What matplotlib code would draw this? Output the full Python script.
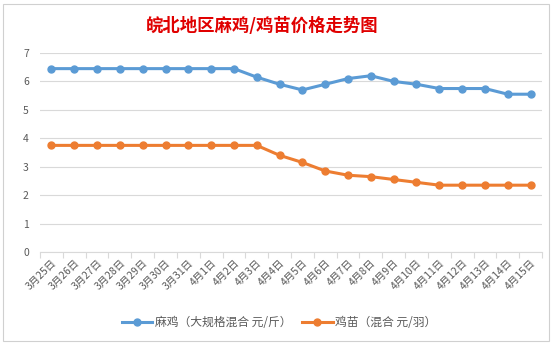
import matplotlib
matplotlib.use("Agg")
import matplotlib.pyplot as plt
from matplotlib.patches import Rectangle

plt.rcParams['font.family'] = ['Noto Sans CJK SC', 'DejaVu Sans']

dates = ["3月25日", "3月26日", "3月27日", "3月28日", "3月29日", "3月30日", "3月31日",
         "4月1日", "4月2日", "4月3日", "4月4日", "4月5日", "4月6日", "4月7日", "4月8日",
         "4月9日", "4月10日", "4月11日", "4月12日", "4月13日", "4月14日", "4月15日"]
maji = [6.45, 6.45, 6.45, 6.45, 6.45, 6.45, 6.45, 6.45, 6.45, 6.15, 5.9, 5.7, 5.9, 6.1,
        6.2, 6.0, 5.9, 5.75, 5.75, 5.75, 5.55, 5.55]
jimiao = [3.75, 3.75, 3.75, 3.75, 3.75, 3.75, 3.75, 3.75, 3.75, 3.75, 3.4, 3.15, 2.85, 2.7,
          2.65, 2.55, 2.45, 2.35, 2.35, 2.35, 2.35, 2.35]
series_names = ["麻鸡（大规格混合 元/斤）", "鸡苗（混合 元/羽）"]
title = "皖北地区麻鸡/鸡苗价格走势图"

blue = "#5B9BD5"
orange = "#ED7D31"
grey_txt = "#595959"

fig = plt.figure(figsize=(5.58, 3.45), dpi=100)
fig.patch.set_facecolor("white")
fig.add_artist(Rectangle((0.006, 0.012), 0.978, 0.976, transform=fig.transFigure,
                         fill=False, edgecolor="#D0D0D0", linewidth=0.8))

ax = fig.add_axes([0.0717, 0.2696, 0.8996, 0.5768])
x = list(range(len(dates)))
ax.plot(x, maji, color=blue, linewidth=2.2, marker="o", markersize=5, label=series_names[0])
ax.plot(x, jimiao, color=orange, linewidth=2.2, marker="o", markersize=5, label=series_names[1])

ax.set_xlim(-0.5, len(dates) - 0.5)
ax.set_ylim(0, 7)
ax.set_yticks(range(0, 8))
ax.yaxis.grid(True, color="#D9D9D9", linewidth=0.8)
ax.set_axisbelow(True)
for s in ["top", "right", "left"]:
    ax.spines[s].set_visible(False)
ax.spines["bottom"].set_color("#D9D9D9")
ax.tick_params(axis="y", length=0, labelsize=7.5, labelcolor=grey_txt, pad=8)

ax.set_xticks(x)
ax.set_xticklabels(dates, rotation=45, ha="right", rotation_mode="anchor",
                   fontsize=7.5, color=grey_txt)
ax.tick_params(axis="x", which="major", length=0, pad=4)
ax.set_xticks([i - 0.5 for i in range(len(dates) + 1)], minor=True)
ax.tick_params(axis="x", which="minor", length=4, color="#D9D9D9", width=0.8)

fig.text(0.47, 0.925, title, ha="center", va="center", color="#E00000",
         fontsize=12.5, fontweight="bold")

fig.legend(loc="center", bbox_to_anchor=(0.5, 0.065), ncol=2, frameon=False,
           fontsize=8.5, labelcolor=grey_txt, handlelength=2.6, columnspacing=0.9,
           handletextpad=0.2)

fig.savefig("out.png", dpi=100)
